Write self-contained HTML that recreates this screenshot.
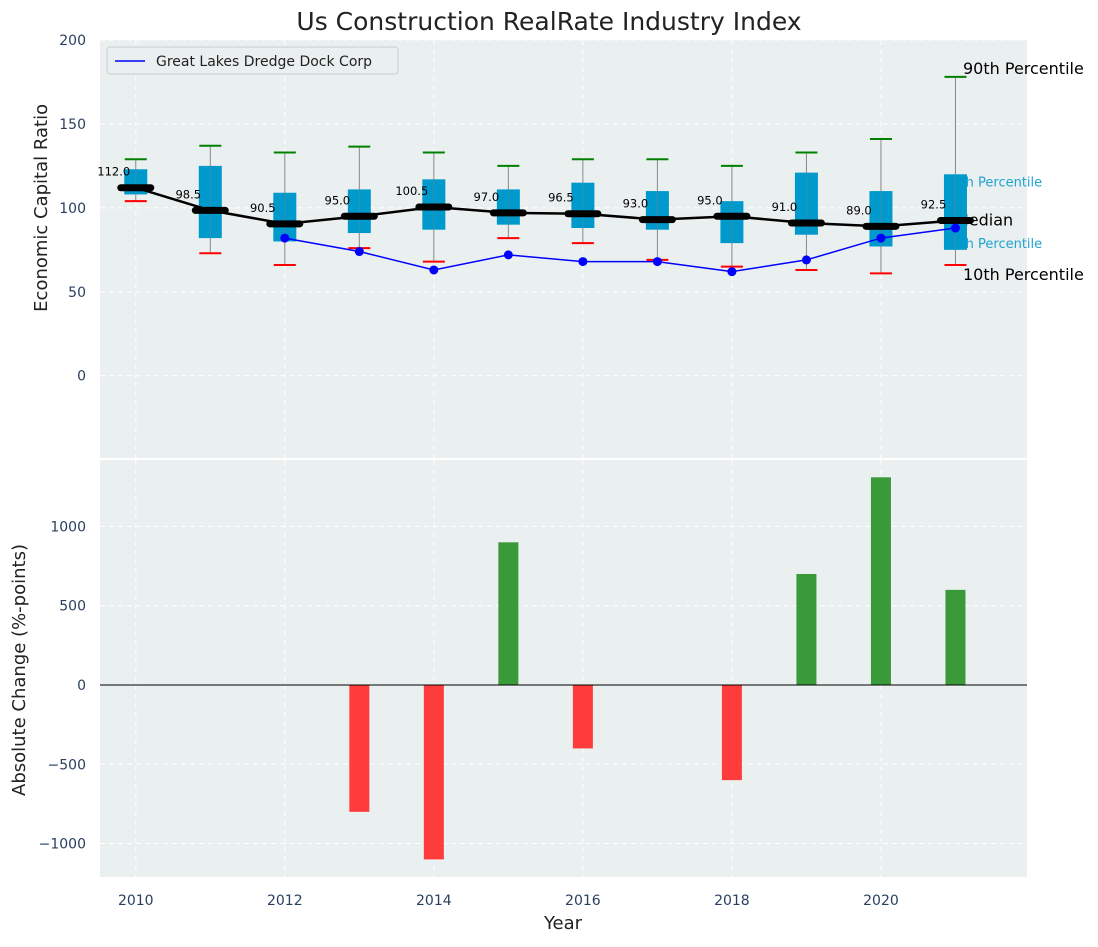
<!DOCTYPE html>
<html><head><meta charset="utf-8"><style>
body{margin:0;background:#fff;font-family:"Liberation Sans","DejaVu Sans",sans-serif;}
svg text{font-family:"DejaVu Sans","Liberation Sans",sans-serif;}
</style></head><body>
<svg id="chart" width="1098" height="942" xmlns="http://www.w3.org/2000/svg">
<text x="549" y="30" text-anchor="middle" font-size="25" fill="#222">Us Construction RealRate Industry Index</text>
</svg>
<script>
const years=[2010,2011,2012,2013,2014,2015,2016,2017,2018,2019,2020,2021];
const p90=[129,137,133,136.5,133,125,129,129,125,133,141,178];
const q75=[123,125,109,111,117,111,115,110,104,121,110,120];
const medians=[112,98.5,90.5,95,100.5,97,96.5,93,95,91,89,92.5];
const q25=[108,82,80,85,87,90,88,87,79,84,77,75];
const p10=[104,73,66,76,68,82,79,69,65,63,61,66];
const companyYears=[2012,2013,2014,2015,2016,2017,2018,2019,2020,2021];
const companyVals=[82,74,63,72,68,68,62,69,82,88];
const changes=[0,0,0,-800,-1100,900,-400,0,-600,700,1310,600];
const yTicksTop=[0,50,100,150,200];
const yTicksBot=[-1000,-500,0,500,1000];
const xTicks=[2010,2012,2014,2016,2018,2020];

const NS="http://www.w3.org/2000/svg";
const svg=document.getElementById('chart');
function el(t,a,p){const e=document.createElementNS(NS,t);for(const k in a)e.setAttribute(k,a[k]);(p||svg).appendChild(e);return e;}
const L=100,R=1027;
const x=v=>L+(v-2009.52)/(2021.96-2009.52)*(R-L);
const T0=40,T1=458;const yT=v=>T0+(200-v)/(200+49)*(T1-T0);
const B0=460,B1=877;const yB=v=>B0+(1419-v)/(1419+1211)*(B1-B0);

let bg=el('rect',{x:L,y:T0,width:R-L,height:T1-T0,fill:'#eaeff0'});

let bg2=el('rect',{x:L,y:B0,width:R-L,height:B1-B0,fill:'#eaeff0'});

xTicks.forEach(t=>{
  el('line',{x1:x(t),x2:x(t),y1:T0,y2:T1,stroke:'#fff','stroke-dasharray':'5,4','stroke-width':1});
  el('line',{x1:x(t),x2:x(t),y1:B0,y2:B1,stroke:'#fff','stroke-dasharray':'5,4','stroke-width':1});
  const tx=el('text',{x:x(t),y:905,'text-anchor':'middle','font-size':14,fill:'#2a3f5f'});tx.textContent=t;
  
});
yTicksTop.forEach(t=>{
  el('line',{x1:L,x2:R,y1:yT(t),y2:yT(t),stroke:'#fff','stroke-dasharray':'5,4'});
  const tx=el('text',{x:86,y:yT(t)+5,'text-anchor':'end','font-size':14,fill:'#2a3f5f'});tx.textContent=t;
  
});
yTicksBot.forEach(t=>{
  el('line',{x1:L,x2:R,y1:yB(t),y2:yB(t),stroke:'#fff','stroke-dasharray':'5,4'});
  const tx=el('text',{x:86,y:yB(t)+5,'text-anchor':'end','font-size':14,fill:'#2a3f5f'});tx.textContent=(t<0?'\u2212'+(-t):t);
  
});
let yt=el('text',{x:47,y:yT(100),'text-anchor':'middle','font-size':18,fill:'#222',transform:`rotate(-90 47 ${yT(100)})`});yt.textContent='Economic Capital Ratio';

let yb=el('text',{x:25,y:670,'text-anchor':'middle','font-size':18,fill:'#222',transform:'rotate(-90 25 670)'});yb.textContent='Absolute Change (%-points)';

let xt=el('text',{x:563,y:929,'text-anchor':'middle','font-size':18,fill:'#222'});xt.textContent='Year';


[['90th Percentile',p90[11],963,-3],['10th Percentile',p10[11],963,15],['Median',medians[11],955,5]].forEach(a=>{
  const t=el('text',{x:a[2],y:yT(a[1])+a[3],'font-size':16,fill:'#000'});t.textContent=a[0];
  
});
[['75th Percentile',q75[11],12],['25th Percentile',q25[11],-2]].forEach(a=>{
  const t=el('text',{x:944,y:yT(a[1])+a[2],'font-size':13,fill:'#1fa3d1'});t.textContent=a[0];
  
});

const bw=23;
years.forEach((yr,i)=>{
  const cx=x(yr);
  const g=el('g',{});
  el('line',{x1:cx,x2:cx,y1:yT(p90[i]),y2:yT(p10[i]),stroke:'#888','stroke-width':1},g);
  el('rect',{x:cx-bw/2,y:yT(q75[i]),width:bw,height:yT(q25[i])-yT(q75[i]),fill:'#0099cc'},g);
  el('line',{x1:cx,x2:cx,y1:yT(q75[i]),y2:yT(q25[i]),stroke:'#5a8aa0','stroke-width':1,opacity:0.6},g);
  el('line',{x1:cx-11,x2:cx+11,y1:yT(p90[i]),y2:yT(p90[i]),stroke:'#008000','stroke-width':2},g);
  el('line',{x1:cx-11,x2:cx+11,y1:yT(p10[i]),y2:yT(p10[i]),stroke:'#ff0000','stroke-width':2},g);
});
let mp=el('polyline',{points:years.map((yr,i)=>x(yr)+','+yT(medians[i])).join(' '),fill:'none',stroke:'#000','stroke-width':2.5});

years.forEach((yr,i)=>{
  const m=el('line',{x1:x(yr)-15,x2:x(yr)+15,y1:yT(medians[i]),y2:yT(medians[i]),stroke:'#000','stroke-width':7,'stroke-linecap':'round'});
  
  const t=el('text',{x:x(yr)-22,y:yT(medians[i])-12,'text-anchor':'middle','font-size':11.5,fill:'#000'});t.textContent=medians[i].toFixed(1);
  
});
let cl=el('polyline',{points:companyYears.map((yr,i)=>x(yr)+','+yT(companyVals[i])).join(' '),fill:'none',stroke:'#0000ff','stroke-width':1.5});

companyYears.forEach((yr,i)=>{
  const c=el('circle',{cx:x(yr),cy:yT(companyVals[i]),r:4.5,fill:'#0000ff'});
  
});
const lg=el('g',{});
el('rect',{x:107,y:47,width:291,height:27,rx:3,fill:'#eaeff0',stroke:'#ccc'},lg);
el('line',{x1:115,x2:145,y1:61,y2:61,stroke:'#0000ff','stroke-width':1.5},lg);
const lt=el('text',{x:156,y:66,'font-size':14,fill:'#222'},lg);lt.textContent='Great Lakes Dredge Dock Corp';

const barW=20;
years.forEach((yr,i)=>{
  const v=changes[i];if(v===0)return;
  const b=el('rect',{x:x(yr)-barW/2,y:Math.min(yB(v),yB(0)),width:barW,height:Math.abs(yB(v)-yB(0)),fill:v>0?'#3a9a3a':'#ff3c3c'});
  
});
let zl=el('line',{x1:L,x2:R,y1:yB(0),y2:yB(0),stroke:'#000','stroke-width':1});

</script>
</body></html>
